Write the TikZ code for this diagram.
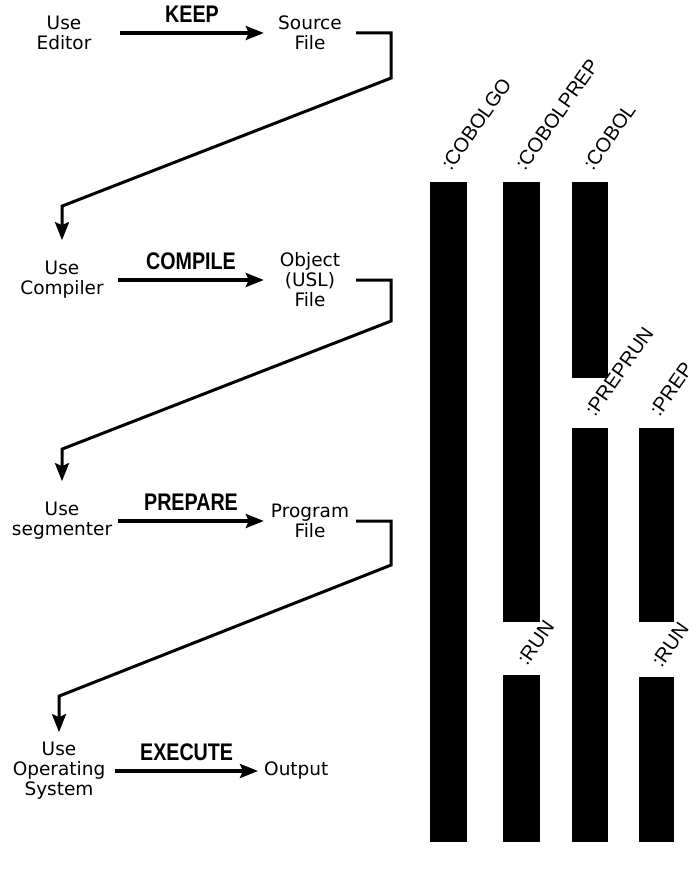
\documentclass[tikz,border=0pt]{standalone}
\usepackage{fontspec}
\setmainfont{DejaVu Sans}
\newfontfamily\opfont[FakeStretch=0.82]{Liberation Sans}
\newfontfamily\barfont{Liberation Sans}
\usetikzlibrary{arrows.meta}

\begin{document}
\begin{tikzpicture}[
  x=1pt, y=-1pt,
  >={Stealth[length=18pt,width=14pt,inset=3pt]},
  task/.style={align=center,text width=100pt,inner sep=6pt,
               font=\fontsize{18.5}{20}\selectfont},
  file/.style={align=center,text width=80pt,inner sep=6pt,
               font=\fontsize{18.5}{20}\selectfont},
  cmd/.style={->,line width=3.2pt},
  drop/.style={->,line width=3pt},
  verb/.style={font=\opfont\fontsize{24}{24}\bfseries,inner sep=2pt,
               above=7pt},
  bar/.style={fill=black,inner sep=0pt,anchor=north,minimum width=37pt},
  cmdname/.style={font=\barfont\fontsize{20}{20}\selectfont,inner sep=0pt,
                  anchor=base west,rotate=55},
]
\useasboundingbox (0,0) rectangle (696,872);

\node[task] (ed)   at (64,33)  {Use\\Editor};
\node[file] (src)  at (310,33) {Source\\File};
\node[task] (comp) at (62,280) {Use\\Compiler};
\node[file] (obj)  at (310,280) {Object\\(USL)\\File};
\node[task] (seg)  at (62,521) {Use\\segmenter};
\node[file] (prog) at (310,521) {Program\\File};
\node[task] (os)   at (59,771) {Use\\Operating\\System};
\node[anchor=west,inner sep=6pt,font=\fontsize{18.5}{20}\selectfont]
  (outp) at (258,771) {Output};

% the four steps
\draw[cmd] (ed)   -- node[verb] {KEEP}    (src);
\draw[cmd] (comp) -- node[verb] {COMPILE} (obj);
\draw[cmd] (seg)  -- node[verb] {PREPARE} (prog);
\draw[cmd] (os)   -- node[verb] {EXECUTE} (outp);

% each file goes on to the next step
\draw[drop] (src.east) -- ++(35,0) -- ++(0,45)
  -- ([yshift=49pt]comp.north) -- ([yshift=15pt]comp.north);
\draw[drop] (obj.east) -- ++(35,0) -- ++(0,41)
  -- ([yshift=47pt]seg.north) -- ([yshift=15pt]seg.north);
\draw[drop] (prog.east) -- ++(35,0) -- ++(0,44)
  -- ([yshift=40pt]os.north) -- ([yshift=4pt]os.north);

% the commands and the steps they cover
\node[bar,minimum height=660pt] (cobolgo)   at (448,182) {};
\node[bar,minimum height=440pt] (cobolprep) at (521,182) {};
\node[bar,minimum height=196pt,minimum width=36pt] (cobol) at (590,182) {};
\node[bar,minimum height=414pt,minimum width=36pt] (preprun) at (590,428) {};
\node[bar,minimum height=194pt,minimum width=35pt] (prep) at (656.5,428) {};
\node[bar,minimum height=167pt] (runa) at (521,675) {};
\node[bar,minimum height=165pt,minimum width=35pt] (runb) at (656.5,677) {};

\node[cmdname] (lcobolgo)   at ([xshift=3pt,yshift=10pt]cobolgo.north)   {:COBOLGO};
\node[cmdname] (lcobolprep) at ([xshift=4pt,yshift=10pt]cobolprep.north) {:COBOLPREP};
\node[cmdname] (lcobol)     at ([xshift=3pt,yshift=10pt]cobol.north)     {:COBOL};
\node[cmdname] (lpreprun)   at ([xshift=5pt,yshift=10pt]preprun.north)   {:PREPRUN};
\node[cmdname] (lprep)      at ([xshift=3pt,yshift=10pt]prep.north)      {:PREP};
\node[cmdname] (lruna)      at ([xshift=6pt,yshift=8pt]runa.north)       {:RUN};
\node[cmdname] (lrunb)      at ([xshift=5pt,yshift=8pt]runb.north)       {:RUN};

\end{tikzpicture}
\end{document}
